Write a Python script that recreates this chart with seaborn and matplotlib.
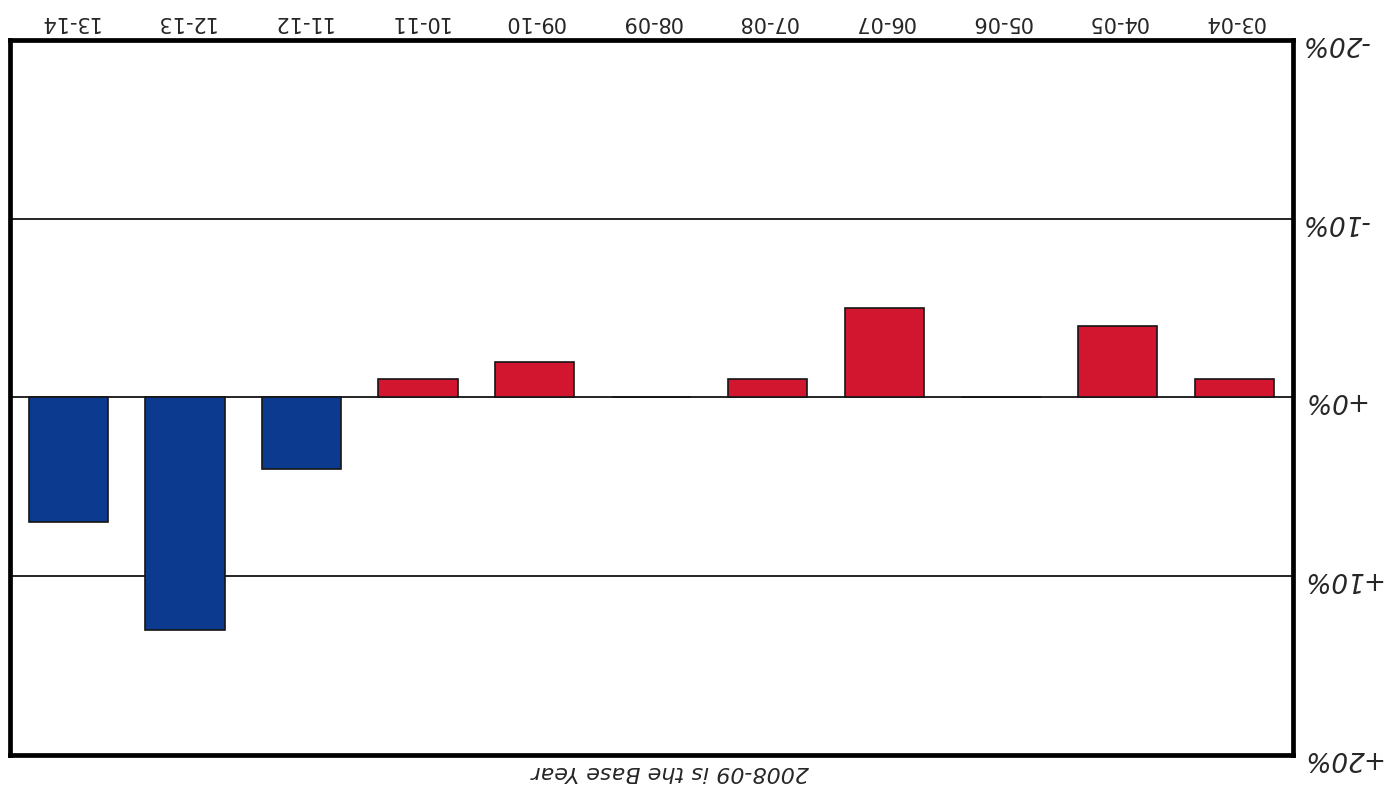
import pandas as pd
import matplotlib.pyplot as plt
import seaborn as sns

# the scanned chart is upside down (rotated 180 deg), so it is drawn that way
years = ['03-04', '04-05', '05-06', '06-07', '07-08', '08-09',
         '09-10', '10-11', '11-12', '12-13', '13-14']
change = [-1.0, -4.0, 0.0, -5.0, -1.0, 0.0, -2.0, -1.0, 4.0, 13.0, 7.0]
y_ticks = [-20, -10, 0, 10, 20]
y_labels = ['-20%', '-10%', '+0%', '+10%', '+20%']
note = '2008-09 is the Base Year'

df = pd.DataFrame({'year': years, 'change': change})
df['sign'] = ['up' if v > 0 else 'down' for v in df['change']]

sns.set_style('white')
plt.rcParams['font.family'] = ['DejaVu Sans']

fig = plt.figure(figsize=(13.88, 7.86), dpi=100)
ax = fig.add_axes([0.0072, 0.04, 0.924, 0.909])

sns.barplot(data=df, x='year', y='change', hue='sign', order=years,
            palette={'up': '#0b3a8e', 'down': '#d2162f'}, dodge=False,
            width=0.68, edgecolor='#151515', linewidth=1.2, legend=False,
            saturation=1, ax=ax)

# flip both axes to match the upside-down scan
ax.set_xlim(len(years) - 0.5, -0.5)
ax.set_ylim(20, -20)

for v in [-10, 0, 10]:
    ax.axhline(v, color='black', lw=1.2, zorder=0)

ax.xaxis.tick_top()
ax.yaxis.tick_right()
ax.set_yticks(y_ticks)
ax.set_yticklabels(y_labels, rotation=180, fontsize=19, style='italic')
ax.set_xticks(range(len(years)))
ax.set_xticklabels(years, rotation=180, fontsize=15,
                   family=['Liberation Sans Narrow', 'DejaVu Sans'])
ax.tick_params(length=0, pad=6)
ax.set_xlabel('')
ax.set_ylabel('')

for s in ax.spines.values():
    s.set_visible(True)
    s.set_color('black')
    s.set_linewidth(3.4)

fig.text(0.483, 0.026, note, rotation=180, rotation_mode='anchor',
         ha='center', va='baseline', fontsize=16, style='italic')

fig.savefig('out.png', dpi=100, facecolor='white')
